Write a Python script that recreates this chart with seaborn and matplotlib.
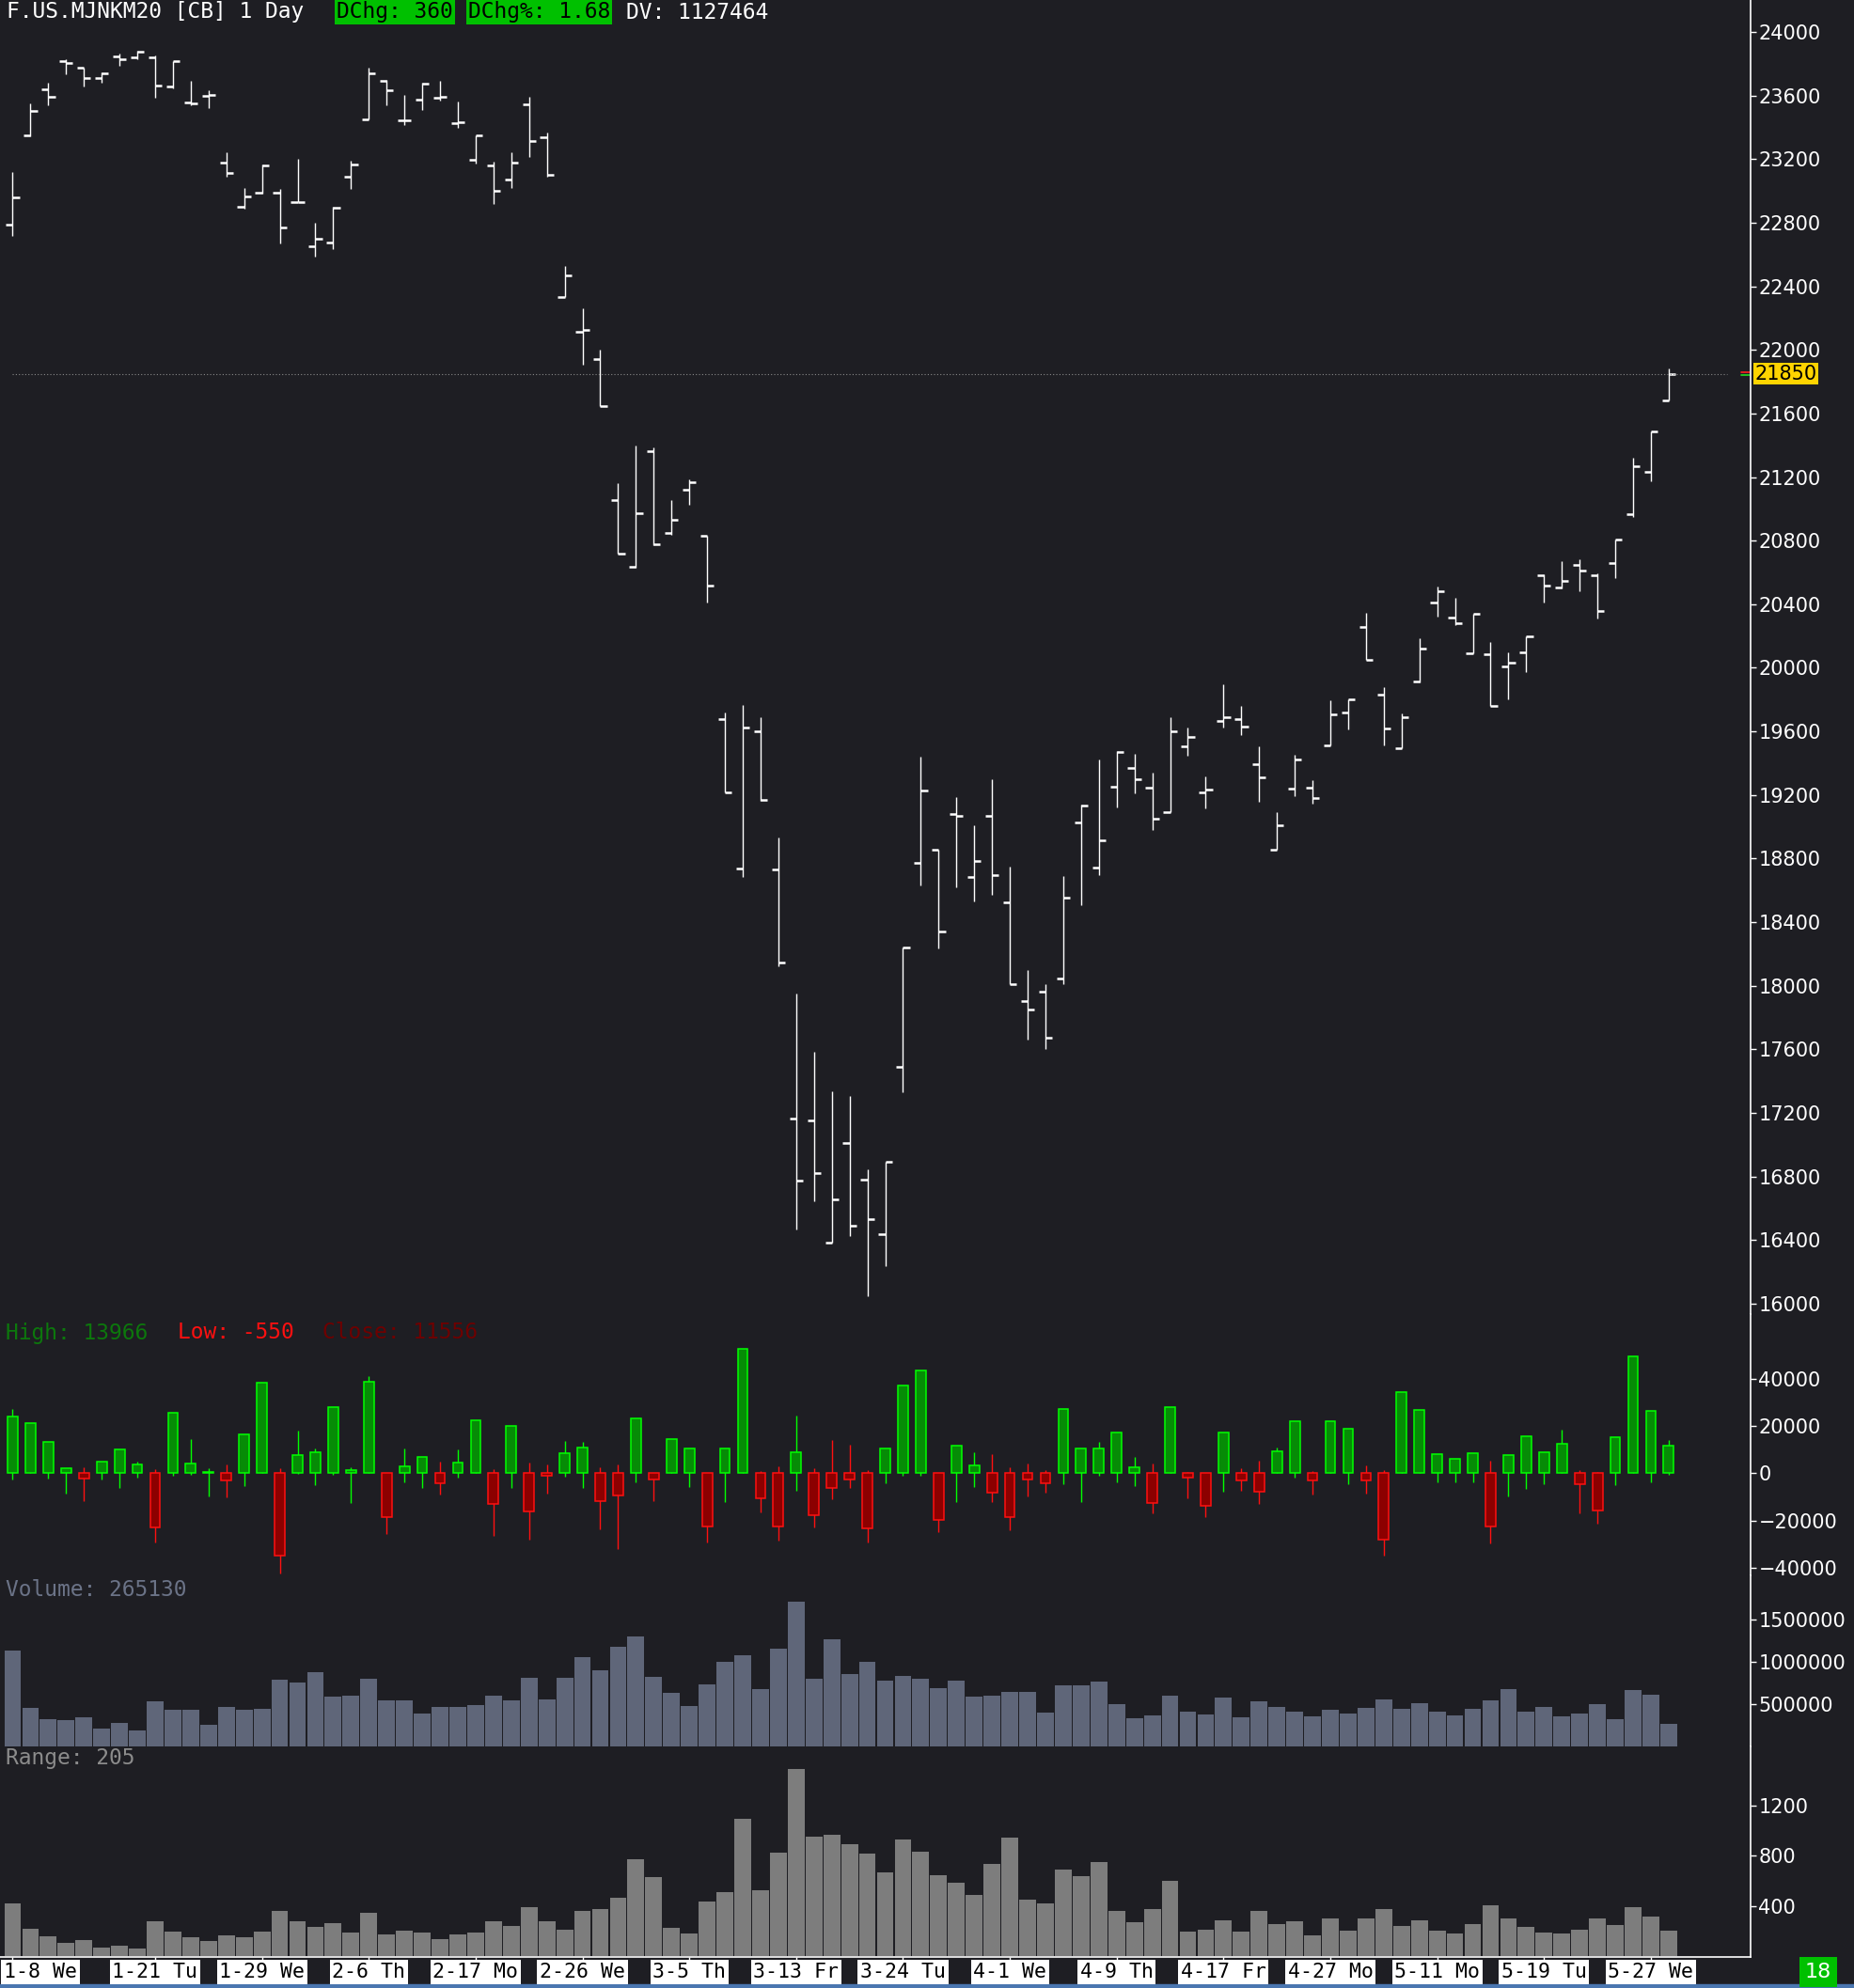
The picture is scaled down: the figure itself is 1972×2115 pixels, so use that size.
import numpy as np
import pandas as pd
import matplotlib
matplotlib.use('Agg')
import matplotlib.pyplot as plt
import matplotlib.transforms as mtransforms
import seaborn as sns

# daily OHLC, F.US.MJNKM20
opens = [22787, 23349, 23640, 23816, 23774, 23711, 23845, 23840, 23843, 23660,
         23558, 23597, 23180, 22900, 22990, 22988, 22929, 22652, 22676, 23090,
         23452, 23695, 23444, 23573, 23587, 23426, 23196, 23159, 23072, 23547,
         23336, 22335, 22114, 21942, 21055, 20637, 21361, 20848, 21123, 20829,
         19679, 18736, 19599, 18732, 17163, 17151, 16382, 17008, 16778, 16435,
         17487, 18770, 18856, 19083, 18683, 19067, 18524, 17902, 17962, 18045,
         19026, 18741, 19250, 19372, 19243, 19094, 19505, 19216, 19664, 19678,
         19392, 18853, 19240, 19243, 19515, 19722, 20255, 19830, 19494, 19915,
         20411, 20316, 20092, 20085, 20010, 20095, 20581, 20503, 20649, 20584,
         20659, 20964, 21233, 21681]
highs = [23119, 23550, 23682, 23832, 23774, 23748, 23864, 23885, 23851, 23819,
         23692, 23634, 23243, 23022, 23167, 23014, 23201, 22803, 22898, 23191,
         23779, 23700, 23602, 23682, 23692, 23563, 23352, 23185, 23246, 23592,
         23370, 22528, 22261, 22003, 21165, 21399, 21387, 21055, 21187, 20833,
         19720, 19765, 19690, 18932, 17951, 17585, 17336, 17306, 16846, 16895,
         18238, 19441, 18856, 19188, 19007, 19298, 18751, 18098, 18011, 18690,
         19141, 19426, 19474, 19460, 19341, 19688, 19627, 19318, 19895, 19759,
         19504, 19094, 19454, 19294, 19796, 19800, 20346, 19881, 19712, 20184,
         20513, 20438, 20343, 20160, 20095, 20200, 20588, 20672, 20683, 20594,
         20805, 21321, 21490, 21884]
lows = [22716, 23344, 23537, 23737, 23655, 23684, 23790, 23832, 23584, 23647,
        23542, 23523, 23088, 22887, 22982, 22671, 22929, 22586, 22636, 23016,
        23452, 23537, 23415, 23513, 23568, 23397, 23170, 22916, 23022, 23212,
        23093, 22335, 21910, 21646, 20716, 20629, 20773, 20837, 21025, 20410,
        19215, 18687, 19166, 18121, 16465, 16642, 16382, 16427, 16046, 16238,
        17329, 18630, 18234, 18619, 18532, 18573, 18012, 17661, 17604, 18007,
        18506, 18693, 19124, 19209, 18978, 19094, 19447, 19117, 19627, 19576,
        19155, 18853, 19192, 19145, 19511, 19610, 20051, 19515, 19494, 19908,
        20323, 20268, 20092, 19763, 19800, 19976, 20411, 20499, 20482, 20309,
        20567, 20947, 21171, 21681]
closes = [22961, 23502, 23592, 23806, 23711, 23740, 23832, 23877, 23663, 23816,
          23550, 23603, 23114, 22966, 23162, 22771, 22929, 22700, 22895, 23167,
          23740, 23634, 23444, 23674, 23592, 23436, 23349, 23001, 23180, 23312,
          23101, 22467, 22129, 21649, 20720, 20972, 20776, 20931, 21169, 20516,
          19218, 19622, 19170, 18143, 16774, 16820, 16654, 16488, 16529, 16895,
          18238, 19226, 18343, 19071, 18785, 18694, 18012, 17853, 17672, 18554,
          19135, 18914, 19470, 19301, 19050, 19600, 19566, 19233, 19691, 19633,
          19311, 19012, 19426, 19178, 19705, 19800, 20051, 19617, 19691, 20122,
          20482, 20282, 20340, 19763, 20031, 20197, 20516, 20550, 20611, 20360,
          20805, 21270, 21490, 21850]

# oscillator candles (open at 0)
osc_close = [23850, 21068, 13118, 1988, -2120, 4770, 9938, 3578, -23055, 25440,
             3975, 398, -3180, 16298, 38160, -34980, 7553, 8745, 27825, 1193,
             38558, -18683, 2783, 6758, -4373, 4373, 22260, -13118, 19875, -16298,
             -1193, 8348, 10733, -11925, -9540, 23055, -2783, 14310, 10335, -22658,
             10335, 52470, -10468, -22658, 8745, -17623, -6360, -2783, -23453, 10335,
             36968, 43328, -19875, 11528, 3180, -8083, -18418, -2518, -4373, 27030,
             10335, 10335, 17093, 2385, -12720, 27825, -1988, -13913, 17093, -3180,
             -7950, 9143, 21863, -3180, 21863, 18683, -3180, -28223, 34185, 26633,
             7950, 5963, 8348, -22658, 7553, 15503, 8745, 12323, -4770, -15900,
             15105, 49290, 26235, 11556]
osc_high = [27163, 21068, 13118, 1988, 2650, 4770, 9938, 4770, 1590, 25440,
            14443, 2120, 3578, 16298, 38160, 1988, 18020, 10468, 27825, 2518,
            41075, 0, 10468, 6758, 4770, 10070, 22260, 1723, 19875, 4373,
            3578, 13648, 13118, 2518, 3578, 23055, 0, 14310, 10335, 0,
            10335, 52470, 1000, 2915, 24380, 2120, 14045, 11925, 1193, 10335,
            36968, 43328, 0, 11528, 8878, 7950, 2518, 3975, 1193, 27030,
            10335, 13250, 17093, 6890, 3975, 27825, 530, 0, 17093, 2120,
            5168, 10865, 21863, 928, 21863, 18683, 3180, 1193, 34185, 26633,
            7950, 5963, 8348, 5168, 7553, 15503, 8745, 18418, 1193, 530,
            15105, 49290, 26235, 13966]
osc_low = [-2650, 0, -2120, -8613, -11660, -2650, -6228, -1723, -29150, -928,
           -530, -9673, -10070, -5300, 0, -42268, -400, -5035, -530, -12455,
           0, -25705, -3843, -6228, -9010, -1723, 0, -26500, -6228, -28090,
           -8480, -1325, -6228, -23585, -31933, -3710, -11660, 0, -5698, -29150,
           -12058, 0, -16430, -28355, -7288, -22790, -10865, -6360, -29150, -4108,
           -928, -928, -24778, -12058, -5698, -12058, -23983, -9673, -8083, -4505,
           -12058, -928, -3710, -5300, -16828, 0, -10468, -18418, -7685, -7288,
           -13118, 0, -1723, -8878, 0, -4505, -8480, -34980, 0, 0,
           -3710, -3710, -3710, -29813, -9673, -6493, -4505, 0, -16828, -21200,
           -4903, 0, -3710, -550]

volume = [1129700, 451900, 318500, 307400, 340800, 207400, 274100, 185200, 529700, 429700,
          429700, 251900, 463000, 429700, 440800, 785200, 751900, 874100, 585200, 596300,
          796400, 540800, 540800, 385200, 463000, 463000, 485200, 596300, 540800, 807500,
          551900, 807500, 1051900, 896400, 1174200, 1296400, 818600, 629700, 474100, 729700,
          996400, 1074200, 674100, 1151900, 1707500, 796400, 1263100, 851900, 996400, 777800,
          829700, 796400, 685200, 774100, 585200, 596300, 640700, 640700, 396300, 718600,
          718600, 763000, 496300, 333400, 363000, 596300, 407400, 374100, 574100, 340800,
          529700, 463000, 407400, 351900, 429700, 385200, 451900, 551900, 440800, 507500,
          407400, 363000, 440800, 540800, 674100, 407400, 463000, 351900, 385200, 496300,
          318500, 663000, 607500, 265130]
day_range = [420, 218, 158, 105, 128, 68, 83, 60, 278, 195,
             150, 120, 165, 150, 195, 360, 278, 233, 263, 188,
             345, 173, 203, 188, 135, 173, 188, 278, 240, 390,
             278, 210, 360, 375, 465, 773, 630, 225, 180, 435,
             510, 1095, 525, 825, 1493, 953, 968, 893, 818, 668,
             930, 833, 645, 585, 488, 735, 945, 450, 420, 690,
             638, 750, 360, 270, 375, 600, 195, 210, 285, 195,
             360, 255, 278, 165, 300, 203, 300, 375, 240, 285,
             203, 180, 255, 405, 300, 233, 188, 180, 210, 300,
             248, 390, 315, 205]

date_pos = [0, 8, 14, 20, 26, 32, 38, 44, 50, 56, 62, 68, 74, 80, 86, 92]
date_labels = ['1-8 We', '1-21 Tu', '1-29 We', '2-6 Th', '2-17 Mo', '2-26 We', '3-5 Th',
               '3-13 Fr', '3-24 Tu', '4-1 We', '4-9 Th', '4-17 Fr', '4-27 Mo', '5-11 Mo',
               '5-19 Tu', '5-27 We']

W, H = 1972, 2115
BG = '#1e1e23'
XMIN, XMAX = -0.711, 97.6
MONO = 'DejaVu Sans Mono'

sns.set_theme(style='dark')
plt.rcParams['font.family'] = ['DejaVu Sans']

fig = plt.figure(figsize=(W / 100, H / 100), dpi=100, facecolor=BG)


def rect(x0, y0, x1, y1):
    return [x0 / W, 1 - y1 / H, (x1 - x0) / W, (y1 - y0) / H]


def px(x, y):
    return x / W, 1 - y / H


def style(ax):
    ax.set_facecolor(BG)
    for s in ['top', 'left', 'bottom']:
        ax.spines[s].set_visible(False)
    ax.spines['right'].set_color('white')
    ax.spines['right'].set_linewidth(1.2)
    ax.yaxis.tick_right()
    ax.tick_params(axis='y', colors='white', labelsize=15, length=4, width=1, pad=2,
                   direction='out', right=True, left=False)
    ax.tick_params(axis='x', bottom=False, labelbottom=False)
    ax.grid(False)
    ax.set_xlabel('')
    ax.set_ylabel('')


idx = np.arange(len(closes))
df = pd.DataFrame({'idx': idx, 'volume': volume, 'range': day_range})

# price panel
ax1 = fig.add_axes(rect(0, 0, 1862, 1398))
ax1.vlines(idx, lows, highs, color='white', lw=1.0)
ax1.hlines(opens, idx - 0.38, idx, color='white', lw=1.8)
ax1.hlines(closes, idx, idx + 0.38, color='white', lw=1.8)
ax1.hlines(21850, -0.05, 96.3, colors='#8a8a8a', linestyles=(0, (1, 2)), lw=0.8)
style(ax1)
ax1.set_xlim(XMIN, XMAX)
ax1.set_ylim(15934, 24202)
ax1.set_yticks(range(16000, 24001, 400))
trans = mtransforms.blended_transform_factory(ax1.transAxes, ax1.transData)
ax1.text(1.0025, 21850, '21850', transform=trans, color='black', fontsize=15,
         va='center', ha='left',
         bbox=dict(boxstyle='square,pad=0.08', fc='#ffd400', ec='none'))
ax1.plot([0.9946, 0.9993], [21858, 21858], transform=trans, color='#ff2020', lw=1.2, clip_on=False)
ax1.plot([0.9946, 0.9993], [21844, 21844], transform=trans, color='#20e020', lw=1.2, clip_on=False)

# oscillator panel
ax2 = fig.add_axes(rect(0, 1398, 1862, 1676))
up = np.array(osc_close) >= 0
edge = np.where(up, '#00ff00', '#ff1010')
fill = np.where(up, '#068c06', '#8c0000')
ax2.vlines(idx, osc_low, osc_high, colors=edge, lw=1.0, zorder=1)
ax2.bar(idx, osc_close, bottom=0, width=0.57, color=fill, edgecolor=edge, linewidth=1.1, zorder=2)
style(ax2)
ax2.set_xlim(XMIN, XMAX)
ax2.set_ylim(-43208, 67299)
ax2.set_yticks([-40000, -20000, 0, 20000, 40000])

# volume panel
ax3 = fig.add_axes(rect(0, 1676, 1862, 1858))
sns.barplot(data=df, x='idx', y='volume', native_scale=True, orient='x', color='#5f6679',
            saturation=1, width=0.94, errorbar=None, linewidth=0, ax=ax3)
style(ax3)
ax3.set_xlim(XMIN, XMAX)
ax3.set_ylim(-3300, 2018900)
ax3.set_yticks([500000, 1000000, 1500000], labels=['500000', '1000000', '1500000'])

# range panel
ax4 = fig.add_axes(rect(0, 1858, 1862, 2082))
sns.barplot(data=df, x='idx', y='range', native_scale=True, orient='x', color='#7d7d7d',
            saturation=1, width=0.94, errorbar=None, linewidth=0, ax=ax4)
style(ax4)
ax4.spines['bottom'].set_visible(True)
ax4.spines['bottom'].set_color('white')
ax4.spines['bottom'].set_linewidth(1.2)
ax4.set_xlim(XMIN, XMAX)
ax4.set_ylim(-7.5, 1672)
ax4.set_yticks([400, 800, 1200])
ax4.set_xticks(date_pos)
ax4.tick_params(axis='x', bottom=True, labelbottom=False, colors='white', length=4,
                width=1, direction='out')

# header
fig.text(*px(7, 13), 'F.US.MJNKM20 [CB] 1 Day', color='white', fontsize=16.5,
         family=MONO, va='center', ha='left')
fig.text(*px(358, 13), 'DChg: 360', color='black', fontsize=16.5, family=MONO,
         va='center', ha='left', bbox=dict(boxstyle='square,pad=0.08', fc='#00c000', ec='none'))
fig.text(*px(498, 13), 'DChg%: 1.68', color='black', fontsize=16.5, family=MONO,
         va='center', ha='left', bbox=dict(boxstyle='square,pad=0.08', fc='#00c000', ec='none'))
fig.text(*px(666, 13), 'DV: 1127464', color='white', fontsize=16.5, family=MONO,
         va='center', ha='left')

# panel captions
fig.text(*px(6, 1418), 'High: 13966', color='#0c780c', fontsize=16.5, family=MONO, va='center')
fig.text(*px(189, 1418), 'Low: -550', color='#ff1010', fontsize=16.5, family=MONO, va='center')
fig.text(*px(343, 1418), 'Close: 11556', color='#6e0000', fontsize=16.5, family=MONO, va='center')
fig.text(*px(6, 1691), 'Volume: 265130', color='#6b7387', fontsize=16.5, family=MONO, va='center')
fig.text(*px(6, 1871), 'Range: 205', color='#8c8c8c', fontsize=16.5, family=MONO, va='center')

# date strip
for pos, lab in zip(date_pos, date_labels):
    xc = 13.47 + 18.94 * pos
    if pos == 0:
        fig.text(*px(4, 2098), lab, color='black', fontsize=15.5, family=MONO, va='center',
                 ha='left', bbox=dict(boxstyle='square,pad=0.12', fc='white', ec='none'))
    else:
        fig.text(*px(xc, 2098), lab, color='black', fontsize=15.5, family=MONO, va='center',
                 ha='center', bbox=dict(boxstyle='square,pad=0.12', fc='white', ec='none'))
fig.text(*px(1934, 2098), '18', color='white', fontsize=16, va='center', ha='center',
         bbox=dict(boxstyle='square,pad=0.25', fc='#00c000', ec='none'))
fig.add_artist(plt.Rectangle((0, 0), 1, 4 / H, transform=fig.transFigure, color='#4a76b0'))

fig.savefig('out.png', dpi=100, facecolor=BG)
